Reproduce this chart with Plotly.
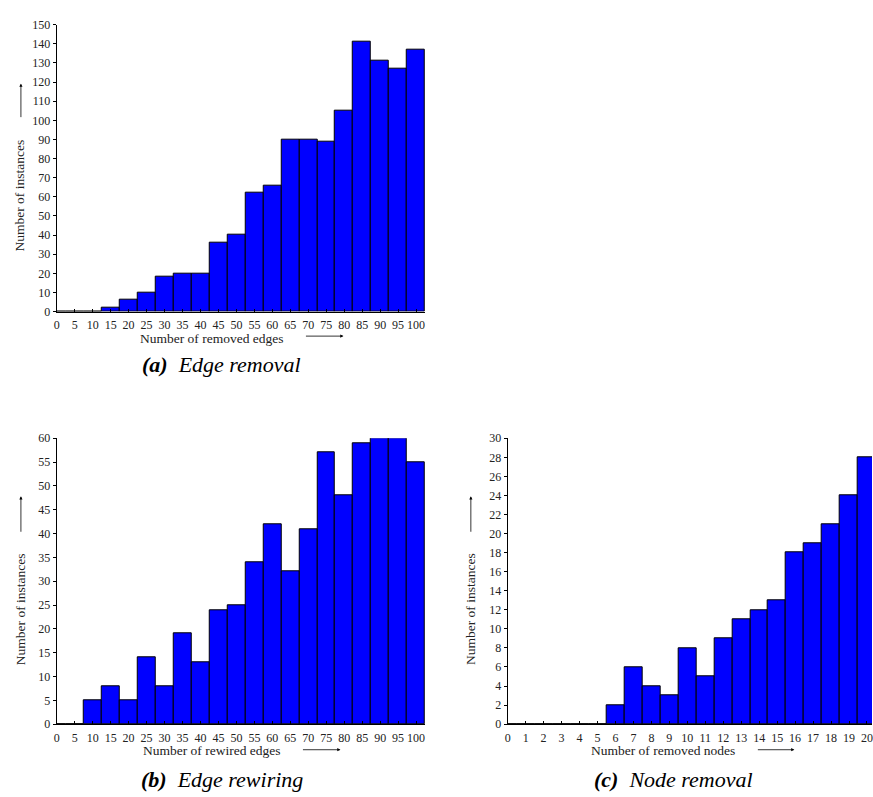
import plotly.graph_objects as go

W, H = 873, 797

# ---------------- data ----------------
edge_removal_x = list(range(0, 101, 5))
edge_removal_y = [0, 0, 0, 2, 6, 10, 18, 20, 20, 36, 40, 62, 66, 90, 90, 89, 105, 141, 131, 127, 137]

edge_rewiring_x = list(range(0, 101, 5))
edge_rewiring_y = [0, 0, 5, 8, 5, 14, 8, 19, 13, 24, 25, 34, 42, 32, 41, 57, 48, 59, 60, 60, 55]

node_removal_x = list(range(0, 21))
node_removal_y = [0, 0, 0, 0, 0, 0, 2, 6, 4, 3, 8, 5, 9, 11, 12, 13, 18, 19, 21, 24, 28]

xticks_ab = list(range(0, 101, 5))
xticks_c = list(range(0, 21))
yticks_a = list(range(0, 151, 10))
yticks_b = list(range(0, 61, 5))
yticks_c = list(range(0, 31, 2))

captions = ["<b><i>(a)</i></b>  <i>Edge removal</i>",
            "<b><i>(b)</i></b>  <i>Edge rewiring</i>",
            "<b><i>(c)</i></b>  <i>Node removal</i>"]
xtitles = ["Number of removed edges", "Number of rewired edges", "Number of removed nodes"]
ytitle = "Number of instances"

FONT = "Liberation Serif"
BLUE = "#0000FF"

def px(x):
    return x / W

def py(y):
    return 1 - y / H

fig = go.Figure()

bar_style = dict(marker=dict(color=BLUE, line=dict(color="black", width=1)), showlegend=False,
                 hoverinfo="x+y")

fig.add_trace(go.Bar(x=edge_removal_x, y=edge_removal_y, width=5, xaxis="x", yaxis="y", **bar_style))
fig.add_trace(go.Bar(x=edge_rewiring_x, y=edge_rewiring_y, width=5, xaxis="x2", yaxis="y2", **bar_style))
fig.add_trace(go.Bar(x=node_removal_x, y=node_removal_y, width=1, xaxis="x3", yaxis="y3", **bar_style))

tickfont = dict(family=FONT, size=12, color="#222")

def xax(domain, rng, ticks, anchor):
    return dict(domain=domain, range=rng, tickmode="array", tickvals=ticks, ticktext=[str(t) for t in ticks],
                ticks="inside", ticklen=3, tickwidth=1, tickcolor="black", showline=True, linecolor="black",
                linewidth=1, showgrid=False, zeroline=False, tickangle=0, tickfont=tickfont, anchor=anchor,
                ticklabelstandoff=2, ticklabeloverflow="allow", fixedrange=True)

def yax(domain, rng, ticks, anchor):
    return dict(domain=domain, range=rng, tickmode="array", tickvals=ticks, ticktext=[str(t) for t in ticks],
                ticks="outside", ticklen=3, tickwidth=1, tickcolor="black", showline=True, linecolor="black",
                linewidth=1, showgrid=False, zeroline=False, tickfont=tickfont, anchor=anchor,
                fixedrange=True)

fig.update_layout(
    width=W, height=H, margin=dict(l=0, r=0, t=0, b=0),
    paper_bgcolor="white", plot_bgcolor="white", bargap=0,
    xaxis=xax([px(54), px(424)], [0, 102.5], xticks_ab, "y"),
    yaxis=yax([py(310), py(18)], [0, 150], yticks_a, "x"),
    xaxis2=xax([px(54), px(424)], [0, 102.5], xticks_ab, "y2"),
    yaxis2=yax([py(730), py(439)], [0, 60], yticks_b, "x2"),
    xaxis3=xax([px(507), 1.0], [0, 20.28], xticks_c, "y3"),
    yaxis3=yax([py(730), py(439)], [0, 30], yticks_c, "x3"),
)

ann = []
lblfont = dict(family=FONT, size=13.5, color="#222")
capfont = dict(family=FONT, size=22, color="black")

# x titles and arrows: (text center x, y, arrow x0, x1, arrow y)
xt = [(210, 337, 303, 342, 335), (210, 757, 300, 339, 756), (663, 757, 757, 795, 756)]
for t, (cx, cy, a0, a1, ay) in zip(xtitles, xt):
    ann.append(dict(text=t, x=px(cx), y=py(cy), xref="paper", yref="paper", showarrow=False,
                    xanchor="center", yanchor="middle", font=lblfont))
    ann.append(dict(text="", x=px(a1), y=py(ay), xref="paper", yref="paper", showarrow=True,
                    ax=-(a1 - a0), ay=0, axref="pixel", ayref="pixel", arrowhead=2, arrowsize=0.8,
                    arrowwidth=0.8, arrowcolor="black", standoff=0, startstandoff=0))

# y titles and arrows: (x, text center y, arrow bottom y, arrow top y)
yt = [(17, 192, 113, 78), (17, 613, 535, 498), (469, 613, 535, 498)]
for (cx, cy, b0, b1) in yt:
    ann.append(dict(text=ytitle, x=px(cx), y=py(cy), xref="paper", yref="paper", showarrow=False,
                    textangle=-90, xanchor="center", yanchor="middle", font=lblfont))
    ann.append(dict(text="", x=px(cx + 1), y=py(b1), xref="paper", yref="paper", showarrow=True,
                    ax=0, ay=(b0 - b1), axref="pixel", ayref="pixel", arrowhead=2, arrowsize=0.8,
                    arrowwidth=0.8, arrowcolor="black", standoff=0, startstandoff=0))

# captions
caps = [(220, 364), (220, 786), (674, 786)]
for c, (cx, cy) in zip(captions, caps):
    ann.append(dict(text=c, x=px(cx), y=py(cy), xref="paper", yref="paper", showarrow=False,
                    xanchor="center", yanchor="middle", font=capfont))

fig.update_layout(annotations=ann)
fig.write_html("out.html")
